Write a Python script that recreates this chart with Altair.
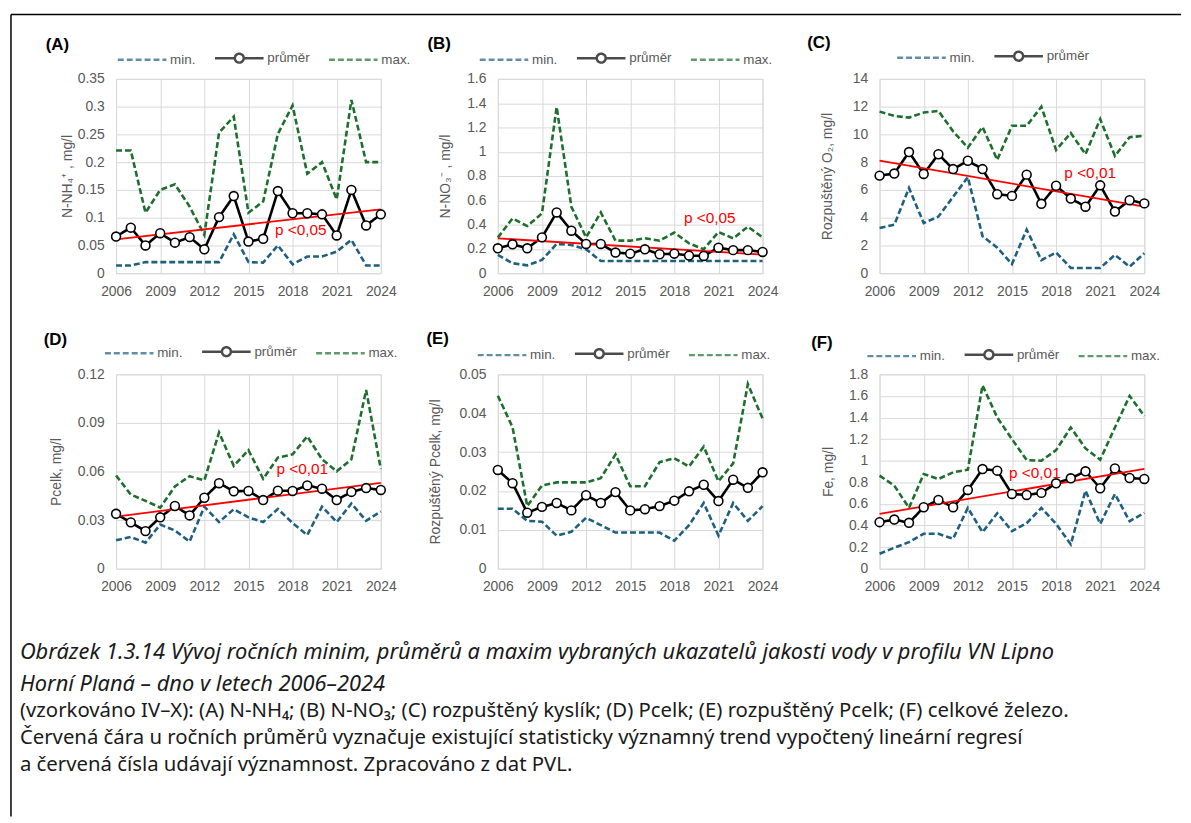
import altair as alt
import pandas as pd

years = list(range(2006, 2025))
x_ticks = [2006, 2009, 2012, 2015, 2018, 2021, 2024]

# (A) N-NH4
a_min = [0.014, 0.014, 0.020, 0.020, 0.020, 0.020, 0.020, 0.020, 0.070, 0.020, 0.019, 0.050, 0.016, 0.030, 0.030, 0.039, 0.060, 0.014, 0.014]
a_mean = [0.066, 0.082, 0.050, 0.072, 0.055, 0.065, 0.043, 0.101, 0.139, 0.057, 0.062, 0.148, 0.108, 0.108, 0.106, 0.068, 0.150, 0.086, 0.106]
a_max = [0.221, 0.221, 0.109, 0.150, 0.160, 0.120, 0.069, 0.253, 0.282, 0.109, 0.129, 0.251, 0.302, 0.179, 0.200, 0.133, 0.312, 0.200, 0.200]
a_ticks = [0, 0.05, 0.1, 0.15, 0.2, 0.25, 0.3, 0.35]

# (B) N-NO3
b_min = [0.150, 0.082, 0.065, 0.109, 0.241, 0.232, 0.197, 0.100, 0.100, 0.100, 0.100, 0.100, 0.100, 0.100, 0.100, 0.100, 0.100, 0.100, 0.100]
b_mean = [0.205, 0.238, 0.205, 0.295, 0.500, 0.350, 0.241, 0.241, 0.170, 0.161, 0.197, 0.156, 0.161, 0.145, 0.142, 0.210, 0.190, 0.190, 0.175]
b_max = [0.293, 0.451, 0.388, 0.492, 1.368, 0.547, 0.295, 0.500, 0.268, 0.268, 0.287, 0.268, 0.334, 0.246, 0.197, 0.339, 0.287, 0.383, 0.295]
b_ticks = [0, 0.2, 0.4, 0.6, 0.8, 1, 1.2, 1.4, 1.6]

# (C) rozpuštěný O2
c_min = [3.26, 3.49, 6.14, 3.61, 4.08, 5.50, 6.92, 2.67, 1.84, 0.66, 3.14, 0.94, 1.49, 0.38, 0.38, 0.38, 1.32, 0.47, 1.44]
c_mean = [7.03, 7.18, 8.73, 7.15, 8.57, 7.50, 8.10, 7.50, 5.69, 5.57, 7.10, 5.00, 6.30, 5.38, 4.79, 6.33, 4.44, 5.26, 5.03]
c_max = [11.64, 11.33, 11.21, 11.57, 11.69, 10.22, 9.04, 10.53, 8.17, 10.62, 10.62, 11.99, 8.88, 10.10, 8.57, 11.10, 8.45, 9.80, 9.90]
c_ticks = [0, 2, 4, 6, 8, 10, 12, 14]

# (D) P celk
d_min = [0.0175, 0.0196, 0.0161, 0.0272, 0.0236, 0.0167, 0.0383, 0.0288, 0.0367, 0.0317, 0.0288, 0.0369, 0.0282, 0.0208, 0.0383, 0.0288, 0.0403, 0.0296, 0.0353]
d_mean = [0.0339, 0.0286, 0.0232, 0.0317, 0.0387, 0.0329, 0.0438, 0.0528, 0.0478, 0.0480, 0.0424, 0.0482, 0.0480, 0.0514, 0.0494, 0.0424, 0.0474, 0.0498, 0.0486]
d_max = [0.0575, 0.0458, 0.0419, 0.0377, 0.0508, 0.0571, 0.0545, 0.0841, 0.0635, 0.0732, 0.0555, 0.0686, 0.0706, 0.0817, 0.0676, 0.0601, 0.0676, 0.1103, 0.0615]
d_ticks = [0, 0.03, 0.06, 0.09, 0.12]

# (E) rozpuštěný P celk
e_min = [0.0154, 0.0154, 0.0123, 0.0121, 0.0085, 0.0095, 0.0131, 0.0112, 0.0093, 0.0093, 0.0093, 0.0093, 0.0072, 0.0112, 0.0169, 0.0085, 0.0169, 0.0123, 0.0161]
e_mean = [0.0254, 0.0220, 0.0144, 0.0159, 0.0169, 0.0150, 0.0189, 0.0169, 0.0197, 0.0150, 0.0153, 0.0161, 0.0175, 0.0199, 0.0216, 0.0174, 0.0229, 0.0208, 0.0248]
e_max = [0.0445, 0.0364, 0.0161, 0.0214, 0.0222, 0.0222, 0.0222, 0.0233, 0.0294, 0.0212, 0.0212, 0.0274, 0.0284, 0.0263, 0.0314, 0.0225, 0.0271, 0.0475, 0.0386]
e_ticks = [0, 0.01, 0.02, 0.03, 0.04, 0.05]

# (F) Fe
f_min = [0.138, 0.194, 0.246, 0.323, 0.323, 0.277, 0.563, 0.338, 0.514, 0.348, 0.422, 0.563, 0.415, 0.225, 0.723, 0.415, 0.692, 0.440, 0.517]
f_mean = [0.431, 0.455, 0.425, 0.569, 0.637, 0.569, 0.729, 0.923, 0.908, 0.692, 0.683, 0.702, 0.791, 0.837, 0.902, 0.745, 0.929, 0.840, 0.831]
f_max = [0.862, 0.769, 0.563, 0.877, 0.831, 0.892, 0.917, 1.698, 1.400, 1.200, 1.006, 1.000, 1.098, 1.308, 1.114, 1.009, 1.308, 1.600, 1.415]
f_ticks = [0, 0.2, 0.4, 0.6, 0.8, 1, 1.2, 1.4, 1.6, 1.8]

letters = ["(A)", "(B)", "(C)", "(D)", "(E)", "(F)"]
y_titles = ["N-NH₄⁺ , mg/l", "N-NO₃⁻ , mg/l", "Rozpuštěný O₂, mg/l", "Pcelk, mg/l", "Rozpuštěný Pcelk, mg/l", "Fe, mg/l"]
sig_text = ["p <0,05", "p <0,05", "p <0,01", "p <0,01", None, "p <0,01"]
sig_year = [2016.8, 2018.65, 2018.56, 2016.9, None, 2014.8]
sig_value = [0.077, 0.451, 7.18, 0.0618, None, 0.89]

SERIES = ["min.", "průměr", "max."]
COLORS = ["#1f5f80", "#000000", "#1e6e2e"]
DASHES = [[6, 3], [1, 0], [6, 3]]
FILLS = ["transparent", "#ffffff", "transparent"]
FONT = "Liberation Sans"
CAP_FONT = "Noto Sans"
GRAY = "#595959"
W, H = 267, 196

# legend glyphs (symbol size 100 -> unit = 5 px)
PATH_LINE = "M-1,0L8.8,0"
PATH_MEAN = "M-1,0L3,0M4.8,0L8.8,0M3,0A0.9,0.9,0,1,0,4.8,0A0.9,0.9,0,1,0,3,0Z"
SHAPES = [PATH_LINE, PATH_MEAN, PATH_LINE]


def panel(i, mins, means, maxs, ticks, legend_values, lx, ly, title_dx, title_off,
          ytitle_pad, frame=False):
    df = pd.DataFrame({
        "year": years * 3,
        "series": ["min."] * len(years) + ["průměr"] * len(years) + ["max."] * len(years),
        "value": mins + means + maxs,
    })
    legend = alt.Legend(
        title=None, orient="none", legendX=lx, legendY=ly, direction="horizontal",
        values=legend_values, symbolSize=100, symbolStrokeWidth=2.5,
        labelFont=FONT, labelFontSize=13.5, labelColor=GRAY, columnPadding=13, labelOffset=41,
    )
    x = alt.X("year:Q", scale=alt.Scale(domain=[2006, 2024], nice=False, zero=False),
              axis=alt.Axis(values=x_ticks, format="d", title=None, labelFlush=False,
                            labelOverlap=False))
    y = alt.Y("value:Q", scale=alt.Scale(domain=[ticks[0], ticks[-1]], nice=False),
              axis=alt.Axis(values=ticks, format=".6~g", title=y_titles[i],
                            titlePadding=ytitle_pad))
    color = alt.Color("series:N", scale=alt.Scale(domain=SERIES, range=COLORS), legend=legend)
    dash = alt.StrokeDash("series:N", scale=alt.Scale(domain=SERIES, range=DASHES), legend=legend)
    shape = alt.Shape("series:N", scale=alt.Scale(domain=SERIES, range=SHAPES), legend=legend)
    fill = alt.Fill("series:N", scale=alt.Scale(domain=SERIES, range=FILLS), legend=legend)

    base = alt.Chart(df)
    minmax = base.transform_filter(alt.datum.series != "průměr").mark_line(
        strokeWidth=2.6).encode(x=x, y=y, color=color, strokeDash=dash, detail="series:N")
    mean_line = base.transform_filter(alt.datum.series == "průměr").mark_line(
        strokeWidth=2.6).encode(x=x, y=y, color=color, strokeDash=dash)
    mean_pts = base.transform_filter(alt.datum.series == "průměr").mark_point(
        filled=True, fill="white", stroke="black", strokeWidth=1.6, size=80, opacity=1
    ).encode(x=x, y=y)
    legend_layer = base.transform_filter("false").mark_point(strokeWidth=2.5).encode(
        x=x, y=y, color=color, strokeDash=dash, shape=shape, fill=fill)
    layers = [minmax, mean_line]
    if sig_text[i] is not None:
        trend = base.transform_filter(alt.datum.series == "průměr").transform_regression(
            "year", "value", method="linear", extent=[2006, 2024]
        ).mark_line(color="#ff0000", strokeWidth=1.8).encode(x=x, y=y)
        lab = alt.Chart(pd.DataFrame({"year": [sig_year[i]], "value": [sig_value[i]],
                                      "t": [sig_text[i]]})).mark_text(
            align="left", baseline="middle", color="#ff0000", font=FONT, fontSize=15.5
        ).encode(x=x, y=y, text="t:N")
        layers += [trend, mean_pts, lab]
    else:
        layers += [mean_pts]
    layers.append(legend_layer)
    if frame:
        # outer frame of the figure (top and left edges, as in the source page)
        one = alt.Chart(pd.DataFrame({"k": [0]}))
        layers.append(one.mark_rule(color="#000000", strokeWidth=1.5).encode(
            x=alt.value(-106), x2=alt.value(1074), y=alt.value(-65)))
        layers.append(one.mark_rule(color="#000000", strokeWidth=1.5).encode(
            x=alt.value(-106), y=alt.value(-65), y2=alt.value(744)))
    return alt.layer(*layers).properties(
        width=W, height=H,
        title=alt.TitleParams(text=letters[i], anchor="start", frame="group", dx=title_dx,
                              font="Liberation Sans", fontSize=17, fontWeight="bold",
                              color="#000000", offset=title_off),
    )


panels = [
    panel(0, a_min, a_mean, a_max, a_ticks, SERIES, 0, -28, -71, -41, 3, frame=True),
    panel(1, b_min, b_mean, b_max, b_ticks, SERIES, -20, -28, -71, -2, 14.5),
    panel(2, c_min, c_mean, c_max, c_ticks, ["min.", "průměr"], 16, -30, -73, -3, 17.5),
    panel(3, d_min, d_mean, d_max, d_ticks, SERIES, -13, -30, -73, -4, 14),
    panel(4, e_min, e_mean, e_max, e_ticks, SERIES, -22, -28, -72, -1, 17),
    panel(5, f_min, f_mean, f_max, f_ticks, SERIES, -14, -27, -69, -4, 13.5),
]

caption_title = ["Obrázek 1.3.14  Vývoj ročních minim, průměrů a maxim vybraných ukazatelů jakosti vody v profilu VN Lipno",
                 "Horní Planá – dno v letech 2006–2024"]
caption_sub = ["(vzorkováno IV–X): (A) N-NH₄; (B) N-NO₃; (C) rozpuštěný kyslík; (D) Pcelk; (E) rozpuštěný Pcelk; (F) celkové železo.",
               "Červená čára u ročních průměrů vyznačuje existující statisticky významný trend vypočtený lineární regresí",
               "a červená čísla udávají významnost. Zpracováno z dat PVL."]

chart = alt.concat(
    *panels, columns=3, spacing={"row": 102, "column": 118}, bounds="flush"
).resolve_scale(
    color="independent", strokeDash="independent", shape="independent", fill="independent",
    x="independent", y="independent"
).resolve_legend(
    color="independent", strokeDash="independent", shape="independent", fill="independent"
).properties(
    title=alt.TitleParams(
        text=caption_title, subtitle=caption_sub, orient="bottom", anchor="start",
        frame="group", dx=-97, offset=-177, font=CAP_FONT, fontSize=22, fontStyle="italic",
        fontWeight="normal", color="#1a1a1a", lineHeight=32,
        subtitleFont=CAP_FONT, subtitleFontSize=20.5, subtitleColor="#1a1a1a",
        subtitleLineHeight=27.5, subtitlePadding=5),
    padding={"left": 1, "top": 1, "right": 0, "bottom": 0},
).configure_view(
    stroke="#d9d9d9", strokeWidth=1
).configure_axis(
    grid=True, gridColor="#d9d9d9", gridWidth=1, domain=False, ticks=False,
    labelFont=FONT, labelFontSize=14, labelColor=GRAY,
    titleFont=FONT, titleFontSize=14, titleColor=GRAY, titleFontWeight="normal",
).configure_axisX(
    labelPadding=11
).configure_axisY(
    labelPadding=12
)

chart.save("out.html", embed_options={"renderer": "svg", "actions": False})
